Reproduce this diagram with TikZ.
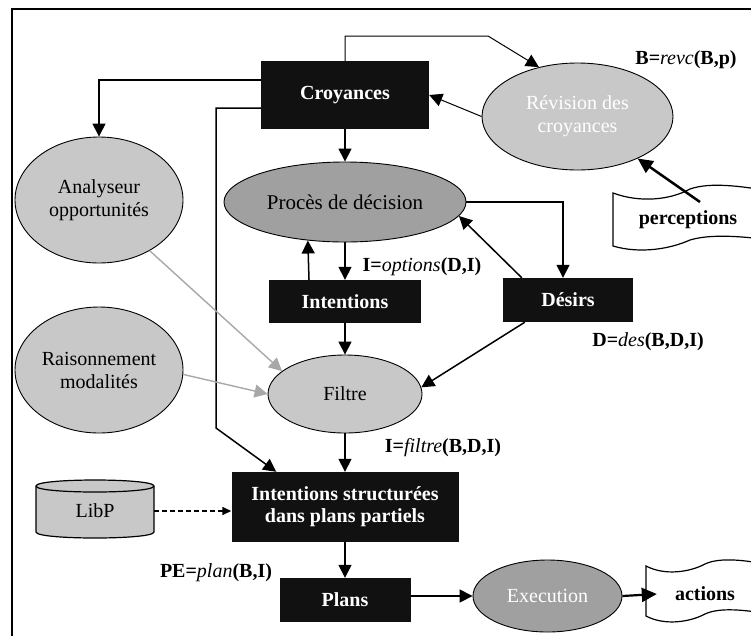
\documentclass[tikz,border=0pt]{standalone}
\usepackage{fontspec}
\setmainfont{Liberation Serif}
\usetikzlibrary{arrows.meta,shapes.geometric,calc}
\definecolor{boxblack}{HTML}{111111}
\definecolor{lightg}{HTML}{C8C8C8}
\definecolor{darkg}{HTML}{A0A0A0}
\definecolor{arrowg}{HTML}{A8A8A8}
\begin{document}
\begin{tikzpicture}[x=1pt,y=-1pt,
  >={Triangle[length=13pt,width=13pt]},
  blackbox/.style={rectangle, fill=boxblack, text=white, font=\fontsize{20}{22}\selectfont\bfseries, inner sep=0pt, align=center},
  lightell/.style={ellipse, draw=black, line width=0.9pt, fill=lightg, inner sep=0pt, align=center, font=\fontsize{20}{23}\selectfont},
  darkell/.style={lightell, fill=darkg},
  conn/.style={line width=1.5pt, ->},
  grayconn/.style={line width=1.4pt, draw=arrowg, ->},
  lbl/.style={font=\fontsize{20}{23}\selectfont\bfseries, inner sep=0pt},
  plain/.style={font=\fontsize{20}{23}\selectfont, inner sep=0pt},
  tapeline/.style={draw=black, line width=1.2pt, fill=white}
]
\useasboundingbox (0,0) rectangle (751,635);
\fill[white] (0,0) rectangle (751,635);
\clip (0,0) rectangle (751,635);

% frame
\draw[line width=2pt] (12,9) rectangle (800,700);

% tapes and cylinder
\draw[tapeline] (613,193) .. controls (640,203) and (670,200) .. (690,189)
  .. controls (710,182) and (740,186) .. (770,191) -- (770,240)
  .. controls (740,236) and (710,234) .. (690,240)
  .. controls (670,249) and (640,254) .. (613,246) -- cycle;
\draw[tapeline] (646,566) .. controls (665,576) and (690,572) .. (705,564)
  .. controls (720,557) and (745,560) .. (770,565) -- (770,614)
  .. controls (745,610) and (720,607) .. (705,614)
  .. controls (690,622) and (665,626) .. (646,616) -- cycle;
\draw[line width=1.2pt, fill=lightg] (36,486) -- (36,532) .. controls (36,540) and (154,540) .. (154,532) -- (154,486) .. controls (154,478) and (36,478) .. (36,486) -- cycle;
\draw[line width=1.2pt] (36,486) .. controls (36,494) and (154,494) .. (154,486);

% nodes
\node[blackbox, minimum width=168, minimum height=68] (cro) at (345,95) {Croyances};
\node[lightell, minimum width=191, minimum height=107, text=white] (rev) at (577.5,116.5) {Révision des\\croyances};
\node[lbl] (revl) at (686,60) {B={\mdseries\itshape revc}(B,p)};
\node[lbl] (perc) at (688,220) {perceptions};
\node[lightell, minimum width=168, minimum height=126] (ana) at (99,200) {Analyseur\\opportunités};
\node[darkell, minimum width=242, minimum height=80, font=\fontsize{21}{24}\selectfont] (pro) at (345,202) {Procès de décision};
\node[blackbox, minimum width=152, minimum height=43] (int) at (345,301.5) {Intentions};
\node[blackbox, minimum width=130, minimum height=44] (des) at (568,300) {Désirs};
\node[lbl] (optl) at (422,267) {I={\mdseries\itshape options}(D,I)};
\node[lbl] (desl) at (648,342) {D={\mdseries\itshape des}(B,D,I)};
\node[lightell, minimum width=168, minimum height=126] (rai) at (99,370) {Raisonnement\\modalités};
\node[lightell, minimum width=154, minimum height=78] (fil) at (345,394) {Filtre};
\node[lbl] (fitl) at (443,448) {I={\mdseries\itshape filtre}(B,D,I)};
\node[blackbox, minimum width=227, minimum height=70] (isp) at (345,507) {Intentions structurées\\dans plans partiels};
\node[plain, minimum width=118, minimum height=52] (libp) at (95,511) {LibP};
\node[lbl] (pel) at (216,573) {PE={\mdseries\itshape plan}(B,I)};
\node[blackbox, minimum width=131, minimum height=44] (plans) at (345,600) {Plans};
\node[darkell, minimum width=149, minimum height=72, text=white] (exe) at (547.5,596) {Execution};
\node[lbl] (act) at (705,594) {actions};

% helper coordinates
\coordinate (topbend) at (488,36);
\coordinate (leftbend) at (216,428);
\coordinate (percin) at (700,202);

% connectors
\draw[conn, line width=1pt] (cro.north) |- (topbend) -- (rev.128);
\draw[conn, line width=1pt] (rev.west) -- (cro.east);
\draw[conn, line width=2.5pt, -{Triangle[length=15pt,width=14pt]}] (percin) -- (rev);
\draw[conn] ($(cro.west)+(0,-15)$) -| (ana.north);
\draw[conn] ($(cro.west)+(0,13)$) -| (leftbend) -- ($(isp.north west)+(45,0)$);
\draw[conn] (cro.south) -- (pro.north);
\draw[conn] (pro.east) -| ($(des.north)+(-5,0)$);
\draw[conn] ($(des.north west)+(19,0)$) -- (pro.-7);
\draw[conn] ($(int.north)+(-36,0)$) -- (pro.226.5);
\draw[conn] (pro.south) -- (int.north);
\draw[conn] (int.south) -- (fil.north);
\draw[grayconn] (ana.-45.6) -- (fil.160);
\draw[grayconn] (rai.-3) -- (fil.west);
\draw[conn] ($(des.south west)+(22,0)$) -- (fil.5);
\draw[conn] (fil.south) -- (isp.north);
\draw[line width=1.6pt, dash pattern=on 5pt off 3pt, -{Triangle[length=9pt,width=8pt]}] (libp.east) -- (libp.east -| isp.west);
\draw[conn] (isp.south) -- (plans.north);
\draw[conn] (plans.east |- exe.west) -- (exe.west);
\draw[conn, line width=2.2pt, -{Triangle[length=15pt,width=14pt]}] (exe.east) -- ($(act.west)+(-18,0)$);
\end{tikzpicture}
\end{document}
